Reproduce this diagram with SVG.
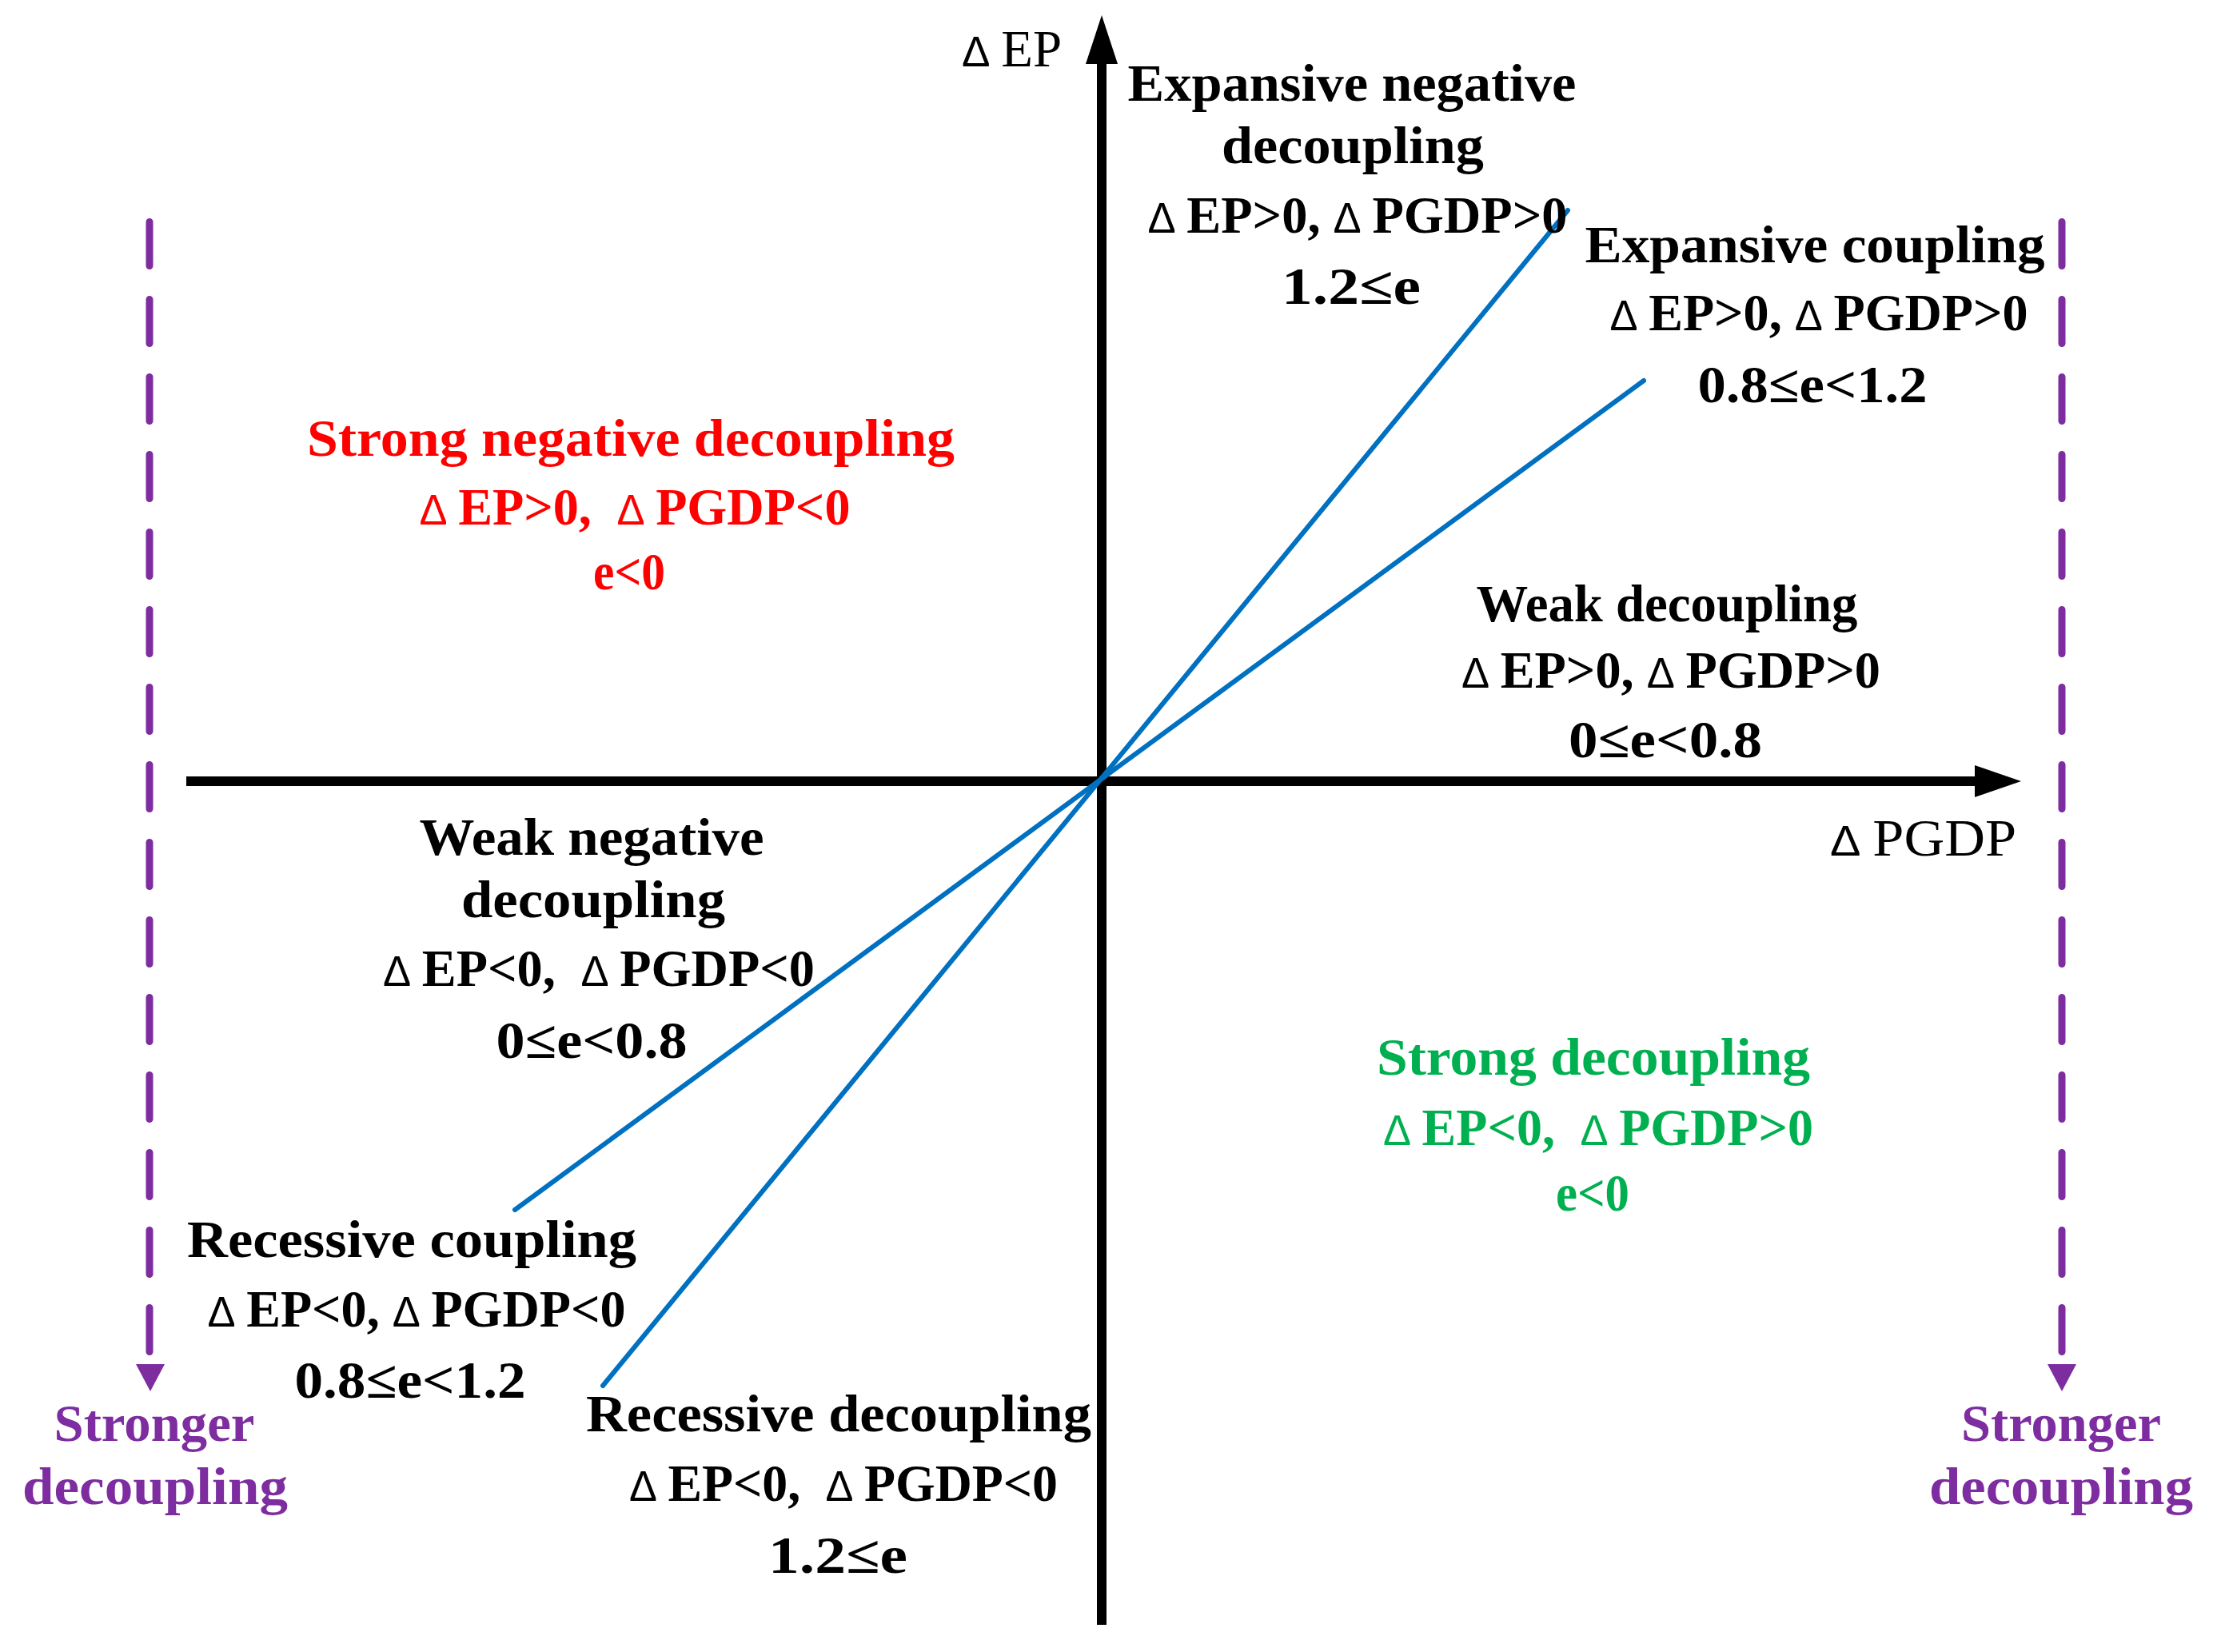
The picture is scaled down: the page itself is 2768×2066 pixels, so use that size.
<svg xmlns="http://www.w3.org/2000/svg" width="2768" height="2066" viewBox="0 0 2768 2066">
<style>
  text { font-family: "Liberation Serif", "Times New Roman", serif; font-size: 66px; font-weight: bold; text-anchor: middle; }
  .k { fill: #000000; }
  .r { fill: #FF0000; }
  .g { fill: #00B050; }
  .p { fill: #7E2DA0; }
  .ax { font-weight: normal; font-size: 66px; text-anchor: start; }
  .d { font-family: "Liberation Sans", Arial, sans-serif; font-weight: normal; font-size: 54px; }
  .axis { stroke: #000000; stroke-width: 12; fill: none; }
  .blue { stroke: #0070C0; stroke-width: 6; fill: none; stroke-linecap: round; }
  .dash { stroke: #7E2DA0; stroke-width: 9; fill: none; stroke-linecap: round; stroke-dasharray: 55 42; }
  .ah { fill: #000000; }
  .ahp { fill: #7E2DA0; }
</style>
<rect width="2768" height="2066" fill="#FFFFFF"/>
<g id="connectors">
  <line class="axis" x1="1378" y1="2032" x2="1378" y2="76"/>
  <polygon class="ah" points="1378,19 1398,80 1358,80"/>
  <line class="axis" x1="233" y1="977" x2="2474" y2="977"/>
  <polygon class="ah" points="2528,977 2470,997 2470,957"/>
  <line class="blue" x1="754" y1="1733" x2="1961" y2="263"/>
  <line class="blue" x1="644" y1="1513" x2="2056" y2="476"/>
  <line class="dash" x1="187" y1="277.5" x2="187" y2="1690.5"/>
  <polygon class="ahp" points="188,1740 206,1706 170,1706"/>
  <line class="dash" x1="2579" y1="277.5" x2="2579" y2="1690.5"/>
  <polygon class="ahp" points="2579,1740 2597,1706 2561,1706"/>
</g>
<g id="axis-ep">
  <text class="k ax" x="1203" y="83" textLength="125" lengthAdjust="spacingAndGlyphs"><tspan class="d">Δ</tspan><tspan dx="14">EP</tspan></text>
</g>
<g id="axis-pgdp">
  <text class="k ax" x="2289" y="1070" textLength="233" lengthAdjust="spacingAndGlyphs"><tspan class="d">Δ</tspan><tspan dx="14">PGDP</tspan></text>
</g>
<g id="expansive-negative-decoupling">
  <text class="k" x="1691" y="126" textLength="561" lengthAdjust="spacingAndGlyphs">Expansive negative</text>
  <text class="k" x="1692" y="204" textLength="328" lengthAdjust="spacingAndGlyphs">decoupling</text>
  <text class="k" x="1698" y="291" textLength="525" lengthAdjust="spacingAndGlyphs"><tspan class="d">Δ</tspan><tspan dx="14">EP&gt;0, </tspan><tspan class="d">Δ</tspan><tspan dx="14">PGDP&gt;0</tspan></text>
  <text class="k" x="1690" y="380" textLength="174" lengthAdjust="spacingAndGlyphs">1.2≤e</text>
</g>
<g id="expansive-coupling">
  <text class="k" x="2270" y="328" textLength="575" lengthAdjust="spacingAndGlyphs">Expansive coupling</text>
  <text class="k" x="2275" y="413" textLength="523" lengthAdjust="spacingAndGlyphs"><tspan class="d">Δ</tspan><tspan dx="14">EP&gt;0, </tspan><tspan class="d">Δ</tspan><tspan dx="14">PGDP&gt;0</tspan></text>
  <text class="k" x="2267" y="503" textLength="287" lengthAdjust="spacingAndGlyphs">0.8≤e&lt;1.2</text>
</g>
<g id="strong-negative-decoupling">
  <text class="r" x="789" y="570" textLength="810" lengthAdjust="spacingAndGlyphs">Strong negative decoupling</text>
  <text class="r" x="794" y="656" textLength="539" lengthAdjust="spacingAndGlyphs"><tspan class="d">Δ</tspan><tspan dx="14">EP&gt;0, </tspan><tspan class="d" dx="16">Δ</tspan><tspan dx="14">PGDP&lt;0</tspan></text>
  <text class="r" x="787" y="737" textLength="90" lengthAdjust="spacingAndGlyphs">e&lt;0</text>
</g>
<g id="weak-decoupling">
  <text class="k" x="2085" y="777" textLength="477" lengthAdjust="spacingAndGlyphs">Weak decoupling</text>
  <text class="k" x="2090" y="860" textLength="524" lengthAdjust="spacingAndGlyphs"><tspan class="d">Δ</tspan><tspan dx="14">EP&gt;0, </tspan><tspan class="d">Δ</tspan><tspan dx="14">PGDP&gt;0</tspan></text>
  <text class="k" x="2083" y="947" textLength="242" lengthAdjust="spacingAndGlyphs">0≤e&lt;0.8</text>
</g>
<g id="weak-negative-decoupling">
  <text class="k" x="740" y="1069" textLength="431" lengthAdjust="spacingAndGlyphs">Weak negative</text>
  <text class="k" x="742" y="1147" textLength="330" lengthAdjust="spacingAndGlyphs">decoupling</text>
  <text class="k" x="749" y="1233" textLength="540" lengthAdjust="spacingAndGlyphs"><tspan class="d">Δ</tspan><tspan dx="14">EP&lt;0, </tspan><tspan class="d" dx="16">Δ</tspan><tspan dx="14">PGDP&lt;0</tspan></text>
  <text class="k" x="740" y="1323" textLength="239" lengthAdjust="spacingAndGlyphs">0≤e&lt;0.8</text>
</g>
<g id="strong-decoupling">
  <text class="g" x="1993" y="1344" textLength="542" lengthAdjust="spacingAndGlyphs">Strong decoupling</text>
  <text class="g" x="1999" y="1432" textLength="538" lengthAdjust="spacingAndGlyphs"><tspan class="d">Δ</tspan><tspan dx="14">EP&lt;0, </tspan><tspan class="d" dx="16">Δ</tspan><tspan dx="14">PGDP&gt;0</tspan></text>
  <text class="g" x="1992" y="1514" textLength="92" lengthAdjust="spacingAndGlyphs">e&lt;0</text>
</g>
<g id="recessive-coupling">
  <text class="k" x="515" y="1572" textLength="562" lengthAdjust="spacingAndGlyphs">Recessive coupling</text>
  <text class="k" x="521" y="1659" textLength="523" lengthAdjust="spacingAndGlyphs"><tspan class="d">Δ</tspan><tspan dx="14">EP&lt;0, </tspan><tspan class="d">Δ</tspan><tspan dx="14">PGDP&lt;0</tspan></text>
  <text class="k" x="513" y="1748" textLength="289" lengthAdjust="spacingAndGlyphs">0.8≤e&lt;1.2</text>
</g>
<g id="recessive-decoupling">
  <text class="k" x="1049" y="1790" textLength="632" lengthAdjust="spacingAndGlyphs">Recessive decoupling</text>
  <text class="k" x="1055" y="1877" textLength="536" lengthAdjust="spacingAndGlyphs"><tspan class="d">Δ</tspan><tspan dx="14">EP&lt;0, </tspan><tspan class="d" dx="16">Δ</tspan><tspan dx="14">PGDP&lt;0</tspan></text>
  <text class="k" x="1048" y="1967" textLength="174" lengthAdjust="spacingAndGlyphs">1.2≤e</text>
</g>
<g id="stronger-decoupling-left">
  <text class="p" x="193" y="1802" textLength="251" lengthAdjust="spacingAndGlyphs">Stronger</text>
  <text class="p" x="194" y="1881" textLength="332" lengthAdjust="spacingAndGlyphs">decoupling</text>
</g>
<g id="stronger-decoupling-right">
  <text class="p" x="2578" y="1802" textLength="250" lengthAdjust="spacingAndGlyphs">Stronger</text>
  <text class="p" x="2578" y="1881" textLength="330" lengthAdjust="spacingAndGlyphs">decoupling</text>
</g>
</svg>
